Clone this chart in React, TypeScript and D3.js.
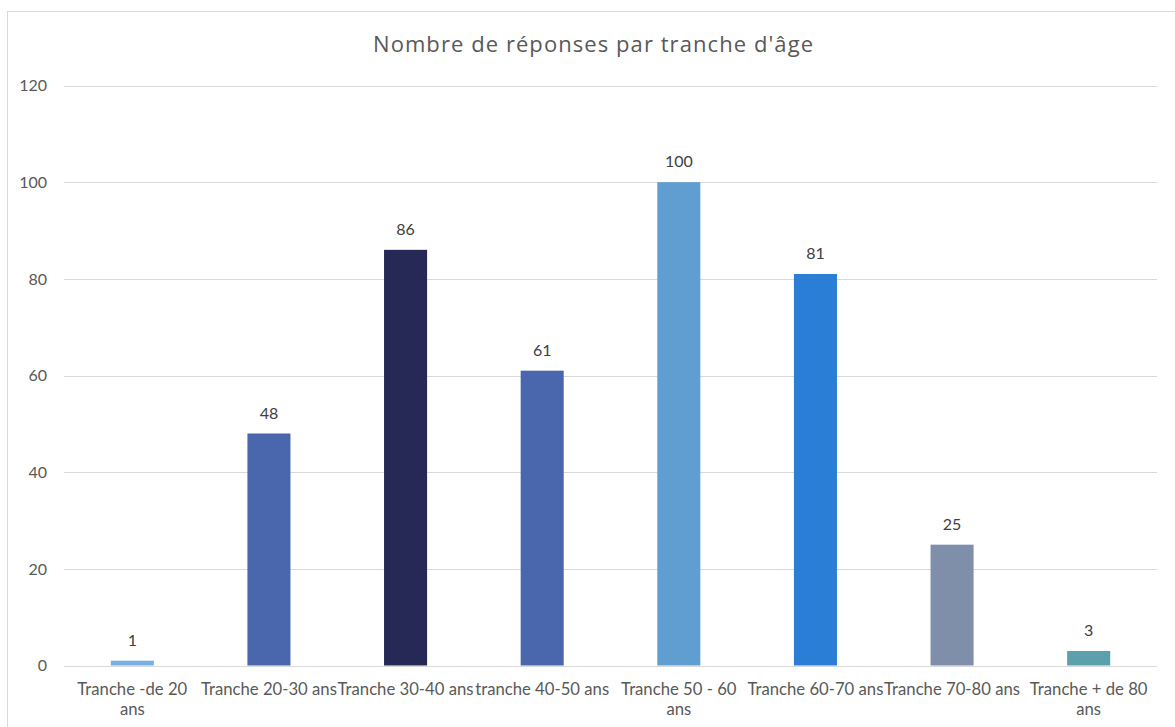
import * as d3 from "d3";
import { useEffect, useRef } from "react";

const categories = [
  "Tranche -de 20 ans",
  "Tranche 20-30 ans",
  "Tranche 30-40 ans",
  "tranche 40-50 ans",
  "Tranche 50 - 60 ans",
  "Tranche 60-70 ans",
  "Tranche 70-80 ans",
  "Tranche + de 80 ans",
];
const responses = [1, 48, 86, 61, 100, 81, 25, 3];
const barColors = ["#7aafe6", "#4a67ae", "#262855", "#4a67ae", "#609ed1", "#2a7ed6", "#7f8faa", "#5aa1ad"];
const yTicks = [0, 20, 40, 60, 80, 100, 120];
const title = "Nombre de réponses par tranche d'âge";

const W = 1175;
const H = 727;
const FONT = "Lato, 'Open Sans', sans-serif";

export default function App() {
  const ref = useRef<SVGSVGElement | null>(null);

  useEffect(() => {
    if (!ref.current) return;
    const svg = d3.select(ref.current);
    svg.selectAll("*").remove();

    const plot = { left: 64, right: 1157, top: 85.5, bottom: 665.5 };

    // chart area frame
    svg.append("rect")
      .attr("x", 7.5).attr("y", 11.5)
      .attr("width", W + 20).attr("height", H + 20)
      .attr("fill", "#fff").attr("stroke", "#d9d9d9");

    svg.append("text")
      .attr("x", 593).attr("y", 52)
      .attr("text-anchor", "middle")
      .attr("textLength", 440)
      .attr("lengthAdjust", "spacing")
      .style("font-family", "'Open Sans', sans-serif").style("font-size", "22px")
      .attr("fill", "#595959")
      .text(title);

    const x = d3.scaleBand<string>()
      .domain(categories)
      .range([plot.left, plot.right])
      .paddingInner(0.685)
      .paddingOuter(0.3425);

    const y = d3.scaleLinear().domain([0, 120]).range([plot.bottom, plot.top]);

    // gridlines
    svg.append("g")
      .selectAll("line")
      .data(yTicks)
      .join("line")
      .attr("x1", plot.left).attr("x2", plot.right)
      .attr("y1", (d) => Math.round(y(d)) + 0.5).attr("y2", (d) => Math.round(y(d)) + 0.5)
      .attr("stroke", "#d9d9d9").attr("stroke-width", 1);

    // y tick labels
    svg.append("g")
      .selectAll("text")
      .data(yTicks)
      .join("text")
      .attr("x", 47).attr("y", (d) => y(d))
      .attr("dy", "0.36em")
      .attr("text-anchor", "end")
      .style("font-family", FONT).style("font-size", "16px")
      .attr("fill", "#595959")
      .text((d) => d);

    // bars
    svg.append("g")
      .selectAll("rect")
      .data(responses)
      .join("rect")
      .attr("x", (_, i) => x(categories[i])!)
      .attr("y", (d) => y(d))
      .attr("width", x.bandwidth())
      .attr("height", (d) => y(0) - y(d))
      .attr("fill", (_, i) => barColors[i]);

    // data labels
    svg.append("g")
      .selectAll("text")
      .data(responses)
      .join("text")
      .attr("x", (_, i) => x(categories[i])! + x.bandwidth() / 2)
      .attr("y", (d) => y(d) - 15)
      .attr("text-anchor", "middle")
      .style("font-family", FONT).style("font-size", "16px")
      .attr("fill", "#404040")
      .text((d) => d);

    // category labels, wrapped when wider than the band step
    const maxW = x.step() + 2;
    svg.append("g")
      .selectAll("text")
      .data(categories)
      .join("text")
      .attr("text-anchor", "middle")
      .style("font-family", FONT).style("font-size", "16.7px")
      .attr("fill", "#595959")
      .each(function (d) {
        const t = d3.select(this);
        const cx = x(d)! + x.bandwidth() / 2;
        const words = d.split(" ");
        const lines: string[] = [];
        let cur: string[] = [];
        const probe = t.append("tspan");
        words.forEach((w) => {
          const test = [...cur, w].join(" ");
          probe.text(test);
          if (cur.length && (probe.node() as SVGTSpanElement).getComputedTextLength() > maxW) {
            lines.push(cur.join(" "));
            cur = [w];
          } else {
            cur.push(w);
          }
        });
        lines.push(cur.join(" "));
        probe.remove();
        lines.forEach((l, k) => {
          t.append("tspan").attr("x", cx).attr("y", 695 + k * 20).text(l);
        });
      });
  }, []);

  return (
    <div style={{ position: "absolute", left: 0, top: 0, width: W, height: H, overflow: "hidden" }}>
      <svg ref={ref} width={W} height={H} style={{ display: "block" }}></svg>
    </div>
  );
}
